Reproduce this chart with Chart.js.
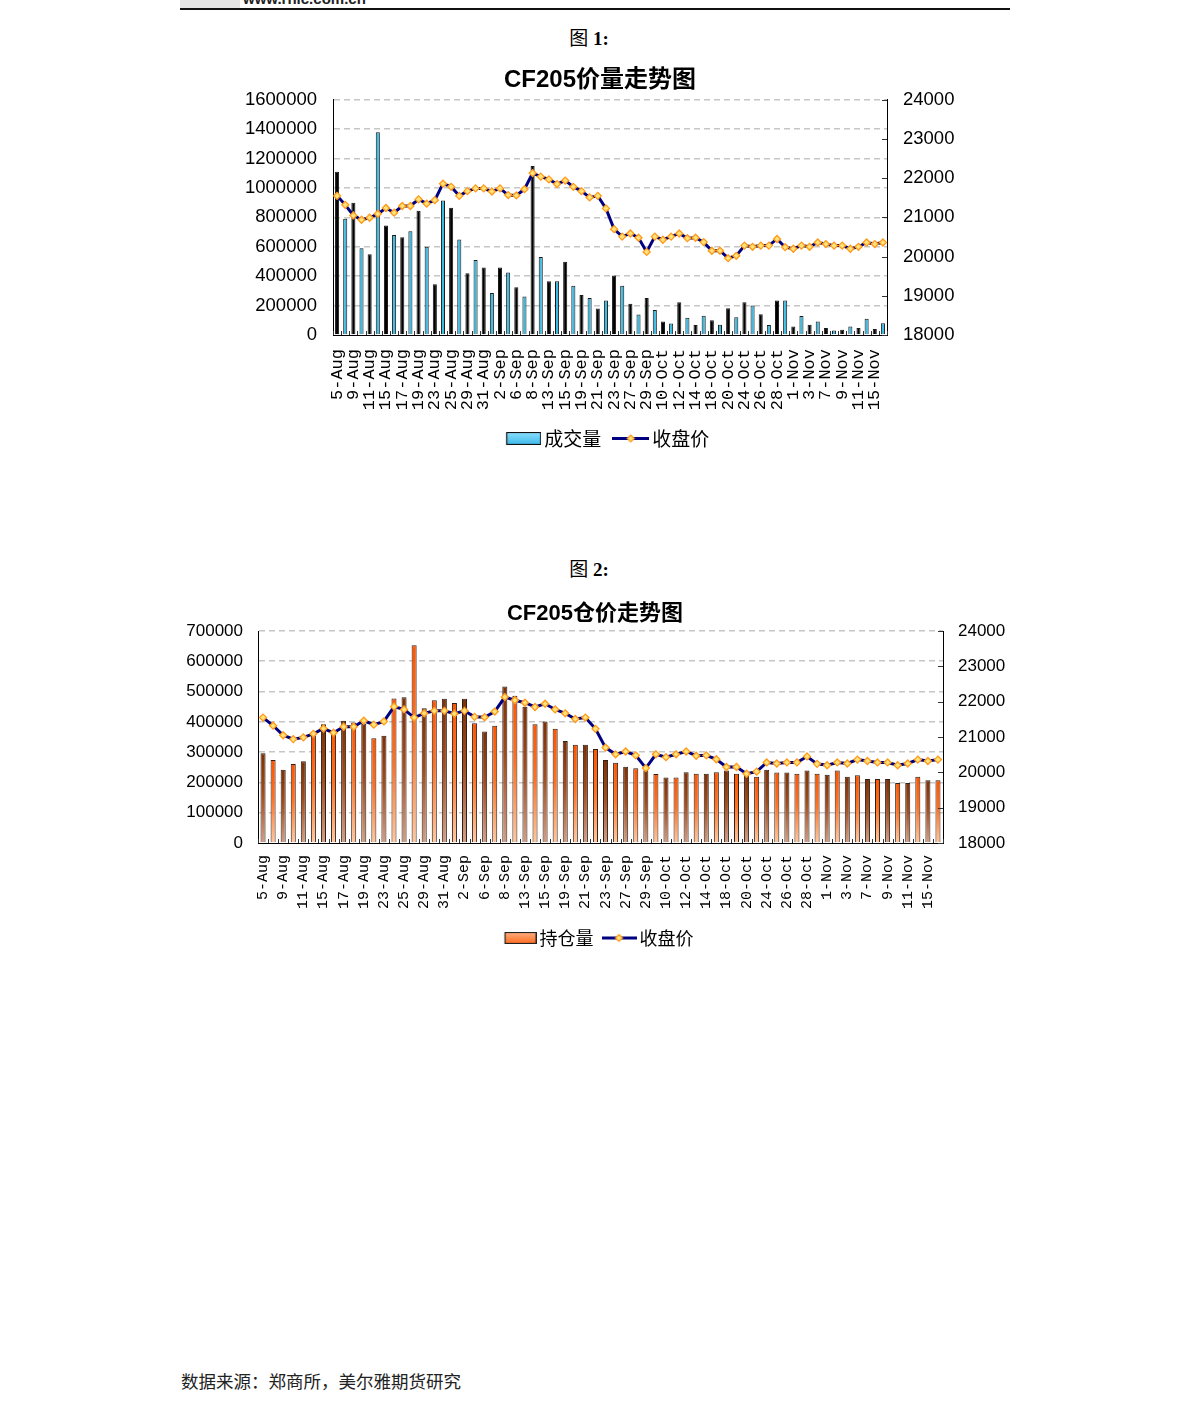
<!DOCTYPE html>
<html><head><meta charset="utf-8">
<script src="https://cdn.jsdelivr.net/npm/chart.js@4.4.1/dist/chart.umd.min.js"></script>
<style>
html,body{margin:0;padding:0;background:#fff;}
body{width:1191px;height:1410px;position:relative;overflow:hidden;}
.hdr{position:absolute;left:180px;top:0;width:830px;height:8px;overflow:hidden;}
.hdr .box{position:absolute;left:0;top:0;width:60px;height:8px;background:#e4e4e4;}
.hdr .url{position:absolute;left:63px;top:-10px;font:bold 15px "Liberation Sans",Arial,sans-serif;color:#222;white-space:nowrap;}
.rule{position:absolute;left:180px;top:8px;width:830px;height:2px;background:#111;}
.cap{position:absolute;left:0;width:1178px;text-align:center;font:bold 19px "Liberation Serif","Noto Sans CJK SC",serif;line-height:22px;color:#000;}
.cap span{font-weight:normal;font-family:"Noto Sans CJK SC",sans-serif;}
.src{position:absolute;left:181px;top:1370px;font:17.5px "Noto Sans CJK SC",sans-serif;line-height:22px;color:#222;white-space:nowrap;}
canvas{position:absolute;}
</style></head>
<body>
<div class="hdr"><div class="box"></div><div class="url">www.rnic.com.cn</div></div>
<div class="rule"></div>
<div class="cap" style="top:26px"><span>图</span> 1:</div>
<canvas id="c1" width="740" height="398" style="left:230px;top:60px;width:740px;height:398px"></canvas>
<div class="cap" style="top:557px"><span>图</span> 2:</div>
<canvas id="c2" width="850" height="365" style="left:170px;top:592px;width:850px;height:365px"></canvas>
<div class="src">数据来源：郑商所，美尔雅期货研究</div>
<script>
// ---------------- data ----------------
const dates = [
 '5-Aug','8-Aug','9-Aug','10-Aug','11-Aug','12-Aug','15-Aug','16-Aug','17-Aug','18-Aug','19-Aug','22-Aug','23-Aug','24-Aug','25-Aug','26-Aug','29-Aug','30-Aug','31-Aug',
 '1-Sep','2-Sep','5-Sep','6-Sep','7-Sep','8-Sep','9-Sep','13-Sep','14-Sep','15-Sep','16-Sep','19-Sep','20-Sep','21-Sep','22-Sep','23-Sep','26-Sep','27-Sep','28-Sep','29-Sep','30-Sep',
 '10-Oct','11-Oct','12-Oct','13-Oct','14-Oct','17-Oct','18-Oct','19-Oct','20-Oct','21-Oct','24-Oct','25-Oct','26-Oct','27-Oct','28-Oct','31-Oct',
 '1-Nov','2-Nov','3-Nov','4-Nov','7-Nov','8-Nov','9-Nov','10-Nov','11-Nov','14-Nov','15-Nov','16-Nov'];

const volume = [
 1110000,790000,900000,590000,550000,1380000,745000,680000,665000,705000,845000,600000,345000,915000,865000,650000,420000,510000,460000,
 285000,460000,425000,325000,262000,1150000,530000,365000,365000,498000,335000,272000,252000,180000,234000,405000,335000,212000,140000,252000,170000,
 92000,78000,222000,118000,68000,131000,100000,70000,182000,120000,222000,200000,141000,68000,234000,234000,
 57000,129000,70000,91000,48000,30000,36000,57000,48000,110000,40000,80000];

const openInterest = [
 296000,274000,242000,261000,270000,353000,392000,368000,404000,398000,394000,346000,354000,477000,481000,653000,445000,471000,476000,
 462000,476000,395000,368000,387000,517000,486000,450000,392000,401000,377000,337000,324000,324000,310000,274000,265000,252000,247000,240000,228000,
 216000,216000,234000,229000,229000,234000,239000,229000,230000,219000,242000,233000,233000,229000,239000,229000,
 225000,239000,219000,224000,211000,211000,211000,198000,198000,219000,207000,207000];

const closePrice = [
 21550,21320,21050,20940,20990,21090,21240,21120,21290,21290,21460,21350,21440,21860,21780,21550,21670,21740,21740,
 21660,21740,21570,21560,21720,22130,22040,21970,21850,21940,21780,21670,21510,21550,21230,20700,20510,20590,20480,20120,20510,
 20430,20510,20590,20470,20480,20370,20150,20150,19960,20020,20280,20250,20280,20280,20450,20240,
 20200,20280,20250,20360,20320,20280,20280,20200,20250,20360,20320,20360];

const volAxis = [0, 1600000, 200000];
const oiAxis = [0, 700000, 100000];
const priceAxis = [18000, 24000, 1000];

// ---------------- helpers ----------------
const SANS = '"Liberation Sans", Arial, sans-serif';
const CJK = '"Noto Sans CJK SC", "Liberation Sans", sans-serif';
const TITLE = '"Liberation Sans", "Noto Sans CJK SC", sans-serif';
const MONO = '"Liberation Mono", "DejaVu Sans Mono", monospace';

function rectIcon(w, h, contentW, c1, c2, stroke){
  const c = document.createElement('canvas'); c.width = w; c.height = h;
  const g = c.getContext('2d');
  const x0 = w - contentW;
  const gr = g.createLinearGradient(0, 0, 0, h);
  gr.addColorStop(0, c1); gr.addColorStop(1, c2);
  g.fillStyle = gr; g.fillRect(x0 + 0.5, 0.5, contentW - 1, h - 1);
  g.strokeStyle = stroke; g.lineWidth = 1.2; g.strokeRect(x0 + 0.5, 0.5, contentW - 1, h - 1);
  return c;
}
function lineIcon(w, h, contentW){
  const c = document.createElement('canvas'); c.width = w; c.height = h;
  const g = c.getContext('2d');
  const x0 = w - contentW, cy = h / 2;
  g.strokeStyle = '#000080'; g.lineWidth = 3;
  g.beginPath(); g.moveTo(x0, cy); g.lineTo(w, cy); g.stroke();
  const cx = x0 + contentW / 2, r = 3.5;
  g.beginPath(); g.moveTo(cx, cy - r); g.lineTo(cx + r, cy); g.lineTo(cx, cy + r); g.lineTo(cx - r, cy); g.closePath();
  g.fillStyle = '#FFE27A'; g.fill(); g.strokeStyle = '#FF9A1A'; g.lineWidth = 1.2; g.stroke();
  return c;
}

const insideTicks = {
  id: 'insideTicks',
  afterDatasetsDraw(chart){
    const {ctx, chartArea: ca} = chart;
    const x = chart.scales.x, y1 = chart.scales.y1;
    const step = x.getPixelForValue(1) - x.getPixelForValue(0);
    ctx.save();
    ctx.strokeStyle = '#333'; ctx.lineWidth = 1;
    ctx.beginPath();
    for (let i = 0; i <= dates.length; i++){
      const px = Math.round(x.getPixelForValue(i) - step / 2) + 0.5;
      ctx.moveTo(px, ca.bottom); ctx.lineTo(px, ca.bottom - 4);
    }
    y1.ticks.forEach(t => {
      const py = Math.round(y1.getPixelForValue(t.value)) + 0.5;
      ctx.moveTo(ca.right, py); ctx.lineTo(ca.right - 5, py);
    });
    ctx.stroke();
    ctx.restore();
  }
};
const centerLegend = {
  id: 'centerLegend',
  afterLayout(chart){
    const lg = chart.legend, ca = chart.chartArea;
    if (!lg || !ca) return;
    const d = (ca.left + ca.right) / 2 - (lg.left + lg.right) / 2;
    lg.left += d; lg.right += d;
  }
};

function makeChart(id, cfg){
  const gridColor = c => (c.tick && c.tick.value === 0) ? 'rgba(0,0,0,0)' : '#c6c6c6';
  const plain = v => String(v);
  return new Chart(document.getElementById(id), {
    data: {
      labels: dates,
      datasets: [
        Object.assign({
          type: 'bar', label: cfg.barLabel, data: cfg.barData, yAxisID: 'y', order: 2,
          borderWidth: 1, barPercentage: 0.5, categoryPercentage: 1
        }, cfg.barStyle),
        {
          type: 'line', label: '收盘价', data: closePrice, yAxisID: 'y1', order: 1,
          borderColor: '#000080', borderWidth: 3, tension: 0, fill: false,
          pointStyle: 'rectRot', pointRadius: 3.5, pointHoverRadius: 3.5,
          pointBackgroundColor: '#FFE27A', pointBorderColor: '#FF9A1A', pointBorderWidth: 1.3
        }
      ]
    },
    options: {
      responsive: false, animation: false, devicePixelRatio: 1,
      layout: { padding: 0 },
      plugins: {
        tooltip: { enabled: false },
        title: { display: true, text: cfg.title, color: '#000',
          font: { family: TITLE, size: cfg.titleSize, weight: 'bold', lineHeight: 1.2 }, padding: cfg.titlePad },
        legend: {
          position: 'bottom',
          labels: {
            usePointStyle: true, pointStyleWidth: cfg.lgW, padding: cfg.lgPad, color: '#000',
            font: { family: CJK, size: cfg.lgFont },
            generateLabels: () => [
              { text: cfg.barLabel, pointStyle: cfg.lgIcon1, fillStyle: 'transparent', strokeStyle: 'transparent', lineWidth: 0, datasetIndex: 0, hidden: false },
              { text: '收盘价', pointStyle: cfg.lgIcon2, fillStyle: 'transparent', strokeStyle: 'transparent', lineWidth: 0, datasetIndex: 1, hidden: false }
            ]
          }
        }
      },
      scales: {
        x: {
          offset: true,
          grid: { display: false, drawTicks: false },
          border: { display: true, color: '#000', width: 1 },
          ticks: { autoSkip: false, minRotation: 90, maxRotation: 90, padding: cfg.xPad, color: '#000',
            font: { family: MONO, size: cfg.xFont },
            callback: (v, i) => (i % 2 === 0 ? dates[i] : '') },
          afterFit: s => { s.height = cfg.xH; }
        },
        y: {
          position: 'left', min: cfg.leftAxis[0], max: cfg.leftAxis[1],
          ticks: { stepSize: cfg.leftAxis[2], color: '#000', padding: cfg.yPad, font: { family: SANS, size: cfg.yFont }, callback: plain },
          grid: { color: gridColor, lineWidth: 1.6, drawTicks: false },
          border: { display: true, color: '#000', width: 1, dash: [6, 4] },
          afterFit: s => { s.width = cfg.leftW; }
        },
        y1: {
          position: 'right', min: priceAxis[0], max: priceAxis[1],
          ticks: { stepSize: priceAxis[2], color: '#000', padding: cfg.yPad, font: { family: SANS, size: cfg.yFont }, callback: plain },
          grid: { drawOnChartArea: false, drawTicks: false },
          border: { display: true, color: '#000', width: 1 },
          afterFit: s => { s.width = cfg.rightW; }
        }
      }
    },
    plugins: [insideTicks, centerLegend]
  });
}

// vertical gradient spanning each bar (top of bar -> axis)
function barGradient(c, oddStops, evenStops, fallback){
  const chart = c.chart, y = chart.scales.y;
  if (!chart.chartArea || !y || c.raw == null) return fallback;
  const top = y.getPixelForValue(c.raw), bot = y.getPixelForValue(0);
  if (!isFinite(top) || !isFinite(bot) || bot - top < 1) return fallback;
  const g = chart.ctx.createLinearGradient(0, top, 0, bot);
  const stops = c.dataIndex % 2 ? oddStops : evenStops;
  stops.forEach(s => g.addColorStop(s[0], s[1]));
  return g;
}
const orangeFill = c => barGradient(c,
  [[0, '#ff5400'], [0.45, '#ff7020'], [1, '#ffc8a0']],
  [[0, '#7e3006'], [0.45, '#a04c1e'], [1, '#d2a088']], '#ff6a10');

makeChart('c1', {
  title: 'CF205价量走势图', titleSize: 24, titlePad: { top: 6, bottom: 5 },
  barLabel: '成交量', barData: volume, leftAxis: volAxis,
  barStyle: {
    backgroundColor: c => (c.dataIndex % 2 ? '#3dbbe3' : '#000'),
    borderColor: '#1a1a1a'
  },
  lgW: 24, lgPad: 17.5, lgFont: 19,
  lgIcon1: rectIcon(37, 13, 35, '#8fe0ff', '#3ab8e8', '#111'),
  lgIcon2: lineIcon(37, 13, 37),
  xPad: 14, xFont: 17, xH: 76.5, yPad: 16, yFont: 18.5, leftW: 103, rightW: 83
});

makeChart('c2', {
  title: 'CF205仓价走势图', titleSize: 22, titlePad: { top: 9, bottom: 3.6 },
  barLabel: '持仓量', barData: openInterest, leftAxis: oiAxis,
  barStyle: { backgroundColor: orangeFill, borderColor: '#2e2018' },
  lgW: 23, lgPad: 14, lgFont: 18,
  lgIcon1: rectIcon(35, 12, 32, '#ffb080', '#ff6a20', '#222'),
  lgIcon2: lineIcon(35, 12, 35),
  xPad: 12, xFont: 15, xH: 72, yPad: 15, yFont: 17, leftW: 88, rightW: 77
});
</script>
</body></html>
